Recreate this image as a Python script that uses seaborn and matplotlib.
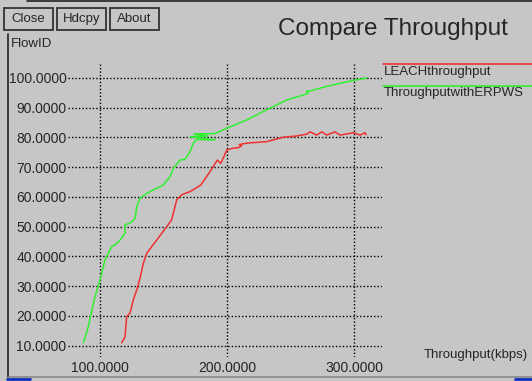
import pandas as pd
import seaborn as sns
import matplotlib.pyplot as plt
from matplotlib.lines import Line2D
from matplotlib.patches import Rectangle

# data
leach_x = [117.1, 119.7, 121.0, 123.6, 126.2, 128.9, 131.5, 134.1, 136.8, 140.7,
           144.6, 152.5, 156.4, 157.7, 160.4, 164.5, 170.9, 175.5, 179.3, 185.8,
           192.4, 195.0, 197.6, 199.8, 205.0, 209.0, 211.6, 209.5, 215.5, 231.2,
           244.3, 254.8, 262.7, 265.4, 270.6, 274.6, 278.6, 285.0, 289.0, 299.5,
           304.7, 308.7, 309.5]
leach_y = [11.0, 13.0, 19.8, 20.9, 25.4, 28.7, 32.7, 37.7, 41.1, 43.3,
           45.5, 50.0, 52.3, 54.5, 59.0, 60.8, 61.8, 63.0, 64.0, 68.0,
           72.4, 71.3, 73.6, 75.8, 76.4, 76.6, 77.2, 77.6, 78.1, 78.6,
           80.1, 80.5, 81.1, 81.9, 80.8, 81.9, 80.8, 81.9, 80.8, 81.6,
           80.8, 81.6, 80.9]

erpws_x = [86.9, 90.8, 92.7, 96.1, 100.0, 103.9, 106.6, 109.2, 111.8, 115.7,
           119.7, 119.7, 123.6, 127.6, 128.9, 131.5, 136.8, 142.0, 149.8, 155.1,
           157.7, 163.0, 166.9, 170.9, 173.5, 176.0, 190.6, 178.0, 171.0, 185.0,
           174.0, 190.6, 199.8, 215.5, 231.2, 247.0, 260.1, 264.0, 262.7, 266.0,
           277.7, 299.5, 310.0]
erpws_y = [11.0, 16.4, 20.3, 26.5, 32.1, 38.8, 41.1, 43.3, 43.9, 45.5,
           47.8, 50.6, 51.2, 52.8, 56.7, 59.6, 61.2, 62.4, 64.0, 66.8,
           69.6, 72.4, 72.7, 75.2, 78.1, 79.3, 79.2, 79.9, 80.3, 80.5,
           81.2, 81.3, 83.1, 85.9, 89.3, 92.6, 94.3, 94.9, 95.6, 95.7,
           97.1, 99.2, 100.0]

y_ticks = [10, 20, 30, 40, 50, 60, 70, 80, 90, 100]
x_ticks = [100, 200, 300]

bg = '#c6c6c6'
red = '#f03030'
green = '#30f030'

sns.set_style('white')
plt.rcParams['font.family'] = ['Liberation Sans', 'DejaVu Sans']

W, H = 532, 381
fig = plt.figure(figsize=(5.32, 3.81), dpi=100, facecolor=bg)
ax = fig.add_axes([68 / W, 24 / H, 314 / W, 293 / H])
ax.set_facecolor(bg)

df_leach = pd.DataFrame({'x': leach_x, 'y': leach_y})
df_erpws = pd.DataFrame({'x': erpws_x, 'y': erpws_y})
sns.lineplot(data=df_leach, x='x', y='y', sort=False, estimator=None,
             color=red, linewidth=1.1, ax=ax)
sns.lineplot(data=df_erpws, x='x', y='y', sort=False, estimator=None,
             color=green, linewidth=1.1, ax=ax)

ax.set_xlim(74.8, 322)
ax.set_ylim(6.2, 104.7)
ax.set_xticks(x_ticks)
ax.set_yticks(y_ticks)
ax.set_xticklabels([f'{v:.4f}' for v in x_ticks], fontsize=10)
ax.set_yticklabels([f'{v:.4f}' for v in y_ticks], fontsize=10)
ax.tick_params(length=0, pad=1)
ax.tick_params(axis='x', pad=3)
ax.grid(True, color='black', linestyle=(0, (1, 1.5)), linewidth=1.0)
for s in ax.spines.values():
    s.set_visible(False)
ax.set_xlabel('')
ax.set_ylabel('')

# window chrome: buttons
for label, x0 in [('Close', 4), ('Hdcpy', 57), ('About', 110)]:
    fig.add_artist(Rectangle((x0 / W, 1 - 30 / H), 49 / W, 22 / H,
                             transform=fig.transFigure, fc=bg, ec='#333333', lw=1.3))
    fig.text((x0 + 24.5) / W, 1 - 19 / H, label, fontsize=9.5,
             va='center', ha='center')
fig.text(393 / W, 1 - 29 / H, 'Compare Throughput', fontsize=17.5,
         ha='center', va='center')
fig.text(11 / W, 1 - 44 / H, 'FlowID', fontsize=9.5, va='center')
fig.text(424 / W, 1 - 355 / H, 'Throughput(kbps)', fontsize=9.5, va='center')

# legend
fig.add_artist(Line2D([383 / W, 1], [1 - 64 / H] * 2, color=red, lw=1.2))
fig.text(384 / W, 1 - 72 / H, 'LEACHthroughput', fontsize=9.5, va='center')
fig.add_artist(Line2D([383 / W, 1], [1 - 86 / H] * 2, color=green, lw=1.2))
fig.text(384 / W, 1 - 93 / H, 'ThroughputwithERPWS', fontsize=9.5, va='center')

# frame edges
fig.add_artist(Line2D([7.5 / W] * 2, [1 - 34 / H, 1 - 377 / H], color='#222222', lw=1.2))
fig.add_artist(Line2D([9 / W, 1], [1 - 377 / H] * 2, color='#888888', lw=1.2))
fig.add_artist(Line2D([7 / W, 30 / W], [1 - 379 / H] * 2, color='#1030c0', lw=2))
fig.add_artist(Line2D([515 / W, 1], [1 - 379 / H] * 2, color='#1030c0', lw=2))
fig.add_artist(Line2D([27 / W, 1], [1 - 1 / H] * 2, color='#222222', lw=1.2))

fig.savefig('out.png', dpi=100, facecolor=bg)
